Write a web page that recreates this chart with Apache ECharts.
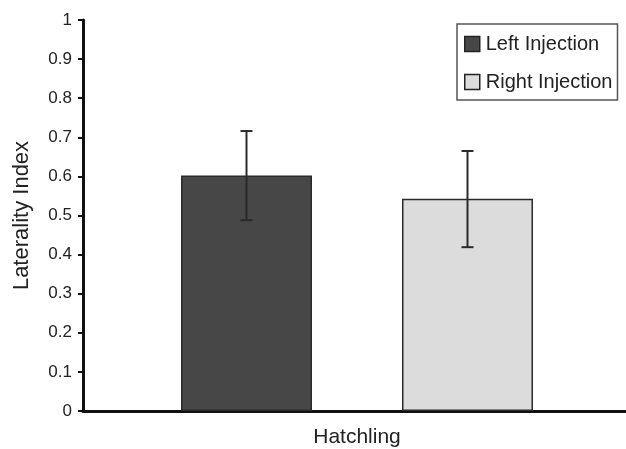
<!DOCTYPE html>
<html><head><meta charset="utf-8">
<script src="https://cdn.jsdelivr.net/npm/echarts@6/dist/echarts.min.js"></script>
<style>html,body{margin:0;padding:0;background:#fff}#c{width:626px;height:449px}</style>
</head><body><div id="c"></div>
<script>
const categories = ['Hatchling'];
const seriesNames = ['Left Injection', 'Right Injection'];
const means = [0.602, 0.543];
const errLow = [0.488, 0.419];
const errHigh = [0.716, 0.665];

const BAR_W = 131, GAP = 90;
const colors = ['#474747', '#dcdcdc'];
const chart = echarts.init(document.getElementById('c'));
const barSeries = seriesNames.map((n, i) => ({
  name: n, type: 'bar', data: [means[i]], barWidth: BAR_W, barGap: (GAP / BAR_W * 100) + '%',
  itemStyle: { color: colors[i], borderColor: '#2a2a2a', borderWidth: 1.5 },
  silent: true
}));
const errSeries = {
  type: 'custom', silent: true, z: 10,
  data: seriesNames.map((n, i) => [0, errLow[i], errHigh[i], i]),
  renderItem: function (params, api) {
    const i = api.value(3);
    const lo = api.coord([0, api.value(1)]);
    const hi = api.coord([0, api.value(2)]);
    const off = (i === 0 ? -1 : 1) * (BAR_W + GAP) / 2;
    const x = lo[0] + off, cap = 6;
    const st = { stroke: '#2a2a2a', lineWidth: 2 };
    return { type: 'group', children: [
      { type: 'line', shape: { x1: x, y1: lo[1], x2: x, y2: hi[1] }, style: st },
      { type: 'line', shape: { x1: x - cap, y1: lo[1], x2: x + cap, y2: lo[1] }, style: st },
      { type: 'line', shape: { x1: x - cap, y1: hi[1], x2: x + cap, y2: hi[1] }, style: st }
    ]};
  }
};
chart.setOption({
  animation: false,
  textStyle: { fontFamily: 'Liberation Sans, Arial, sans-serif' },
  grid: { left: 83, right: -5, top: 20, bottom: 38, containLabel: false, outerBoundsMode: 'none' },
  legend: {
    data: seriesNames, orient: 'vertical', left: 457, top: 24,
    borderColor: '#555', borderWidth: 1.5, padding: [10, 5, 8, 7], itemGap: 18,
    itemWidth: 15, itemHeight: 15, icon: 'rect',
    itemStyle: { borderColor: '#222', borderWidth: 1.5 },
    textStyle: { fontSize: 20, color: '#222', padding: [0, 0, 0, 1] }
  },
  xAxis: {
    type: 'category', data: categories,
    name: 'Hatchling', nameLocation: 'middle', nameGap: 16,
    nameTextStyle: { fontSize: 21, color: '#222' },
    axisLine: { lineStyle: { color: '#111', width: 3 } },
    axisTick: { show: false }, axisLabel: { show: false }
  },
  yAxis: {
    type: 'value', min: 0, max: 1, interval: 0.1,
    name: 'Laterality Index', nameLocation: 'middle', nameGap: 50,
    nameTextStyle: { fontSize: 22, color: '#222' },
    axisLine: { show: true, lineStyle: { color: '#111', width: 3 } },
    axisTick: { show: true, length: 5, lineStyle: { color: '#111', width: 2 } },
    axisLabel: { fontSize: 17, color: '#222', margin: 11 },
    splitLine: { show: false }
  },
  series: [...barSeries, errSeries]
});
</script></body></html>
